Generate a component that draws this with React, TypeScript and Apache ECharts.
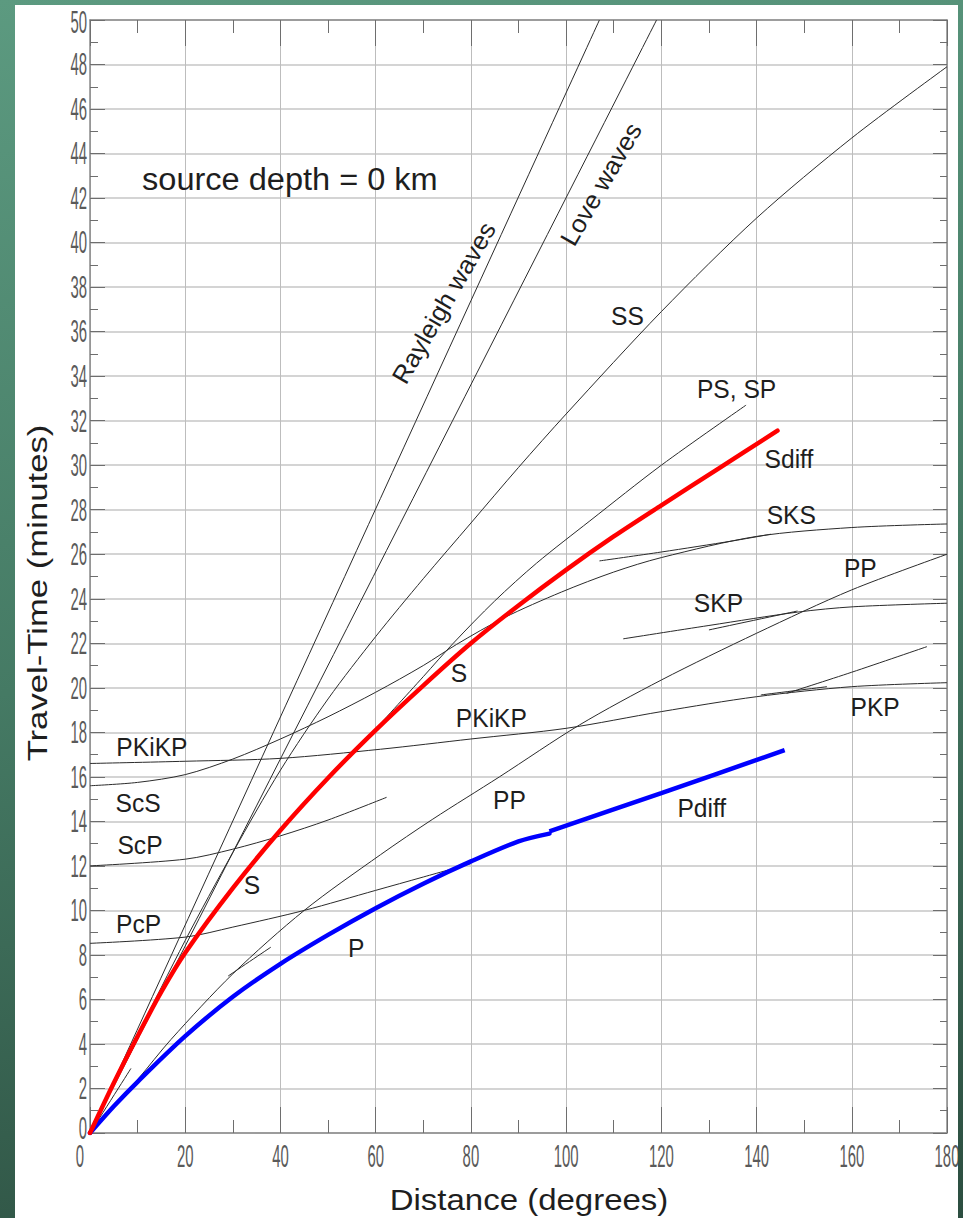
import React, { useEffect, useRef } from "react";
import * as echarts from "echarts";

// ---------- axis ticks ----------
const X_TICKS = [0, 20, 40, 60, 80, 100, 120, 140, 160, 180];
const Y_TICKS = [0, 2, 4, 6, 8, 10, 12, 14, 16, 18, 20, 22, 24, 26, 28, 30, 32, 34, 36, 38, 40, 42, 44, 46, 48, 50];

// ---------- travel-time curves: [distance (deg), time (min)] ----------
const P_WAVE = [[0, 0], [5, 1.2], [10, 2.3], [20, 4.35], [30, 6.12], [40, 7.6], [50, 8.9], [60, 10.1], [70, 11.2], [80, 12.2], [90, 13.1], [96.5, 13.45]];
const P_DIFF = [[96.5, 13.55], [120, 15.27], [145.9, 17.2]];
const S_WAVE = [[0, 0], [5, 2.25], [10, 4.35], [15, 6.35], [20, 8.1], [30, 11.0], [40, 13.6], [50, 15.95], [60, 18.1], [70, 20.1], [80, 22.0], [90, 23.7], [100, 25.3], [110, 26.8], [120, 28.2], [132, 29.85], [144.4, 31.55]];
const RAYLEIGH = [[0, 0], [107, 50]];
const LOVE = [[0, 0], [119, 50]];
const SS = [[0, 0], [10, 4.4], [20, 8.65], [30, 12.6], [40, 16.3], [50, 19.5], [60, 22.3], [70, 24.9], [80, 27.4], [90, 29.9], [100, 32.3], [120, 36.9], [140, 41.1], [160, 44.7], [180, 47.9]];
const PS_SP = [[60, 18.15], [70, 20.5], [76.3, 22.0], [85, 23.9], [93.8, 25.6], [105, 27.5], [120, 30.0], [137.8, 32.7]];
const SCS_SKS = [[0, 15.6], [10, 15.75], [20, 16.1], [30, 16.8], [40, 17.7], [50, 18.7], [60, 19.8], [70, 21.0], [77, 21.95], [87, 23.15], [99, 24.3], [110, 25.2], [120, 25.85], [140, 26.8], [160, 27.2], [180, 27.36]];
const SKKS = [[107, 25.7], [120, 26.1], [135, 26.6], [143, 26.9]];
const PKIKP = [[0, 16.6], [20, 16.7], [40, 16.83], [61, 17.24], [80, 17.7], [100, 18.18], [120, 18.93], [140, 19.6], [160, 20.05], [180, 20.23]];
const PKP_AB = [[146.3, 19.75], [160, 20.7], [175.8, 21.85]];
const PKP_BC = [[140.9, 19.68], [154.8, 20.05]];
const SKP = [[112, 22.2], [130, 22.8], [148.6, 23.4], [160.3, 23.64], [180, 23.8]];
const PKS = [[130, 22.6], [148.6, 23.45]];
const PP = [[0, 0], [10, 2.4], [17, 4.2], [30, 7.15], [45, 10.0], [61, 12.5], [72, 14.1], [86, 16.0], [102.8, 18.33], [120, 20.35], [140, 22.45], [160, 24.4], [180, 26.0]];
const PP_SHORT = [[29, 7.05], [38, 8.35]];
const PCP = [[0, 8.52], [20, 8.8], [30, 9.25], [45, 10.0], [60, 10.9], [70, 11.5], [80, 12.1]];
const SCP = [[0, 12.0], [20, 12.3], [30, 12.75], [40, 13.35], [50, 14.06], [62.3, 15.08]];
const NEAR_SHORT = [[0, 0], [8.6, 2.9]];

// ---------- curve labels (anchor in data coordinates) ----------
const PHASE_LABELS = ["PKiKP", "ScS", "ScP", "PcP", "S", "P", "S", "PKiKP", "PP", "Pdiff", "SKP", "PP", "SKS", "Sdiff", "PKP", "PS, SP", "SS"];
const PHASE_LABEL_X = [13.0, 10.1, 10.5, 10.2, 34.0, 55.9, 77.5, 84.3, 88.1, 128.5, 132.0, 161.8, 147.3, 146.8, 164.9, 135.8, 112.9];
const PHASE_LABEL_Y = [17.34, 14.82, 12.94, 9.39, 11.14, 8.33, 20.66, 18.64, 14.96, 14.6, 23.81, 25.38, 27.76, 30.28, 19.14, 33.42, 36.7];
const WAVE_LABELS = ["Rayleigh waves", "Love waves"];
const WAVE_LABEL_X = [74.3, 107.3];
const WAVE_LABEL_Y = [37.3, 42.63];
const TITLE_TEXT = "source depth = 0 km";
const TITLE_POS = [41.98, 42.86];
const X_NAME = "Distance (degrees)";
const Y_NAME = "Travel-Time (minutes)";

const FONT = "'Liberation Sans', Arial, Helvetica, sans-serif";

const thinCurves = [
  RAYLEIGH, LOVE, SS, PS_SP, SCS_SKS, SKKS, PKIKP, PKP_AB, PKP_BC, SKP, PKS, PP, PP_SHORT, PCP, SCP, NEAR_SHORT,
];

function buildOption(): any {
  const tickColor = "#6e6e6e";
  const axisLine = { show: true, onZero: false, lineStyle: { color: "#8a8a8a", width: 1.5 } };
  const xBase = {
    type: "value", min: 0, max: 180, interval: 20,
    axisLine, axisLabel: { show: false },
    axisTick: { show: true, inside: true, length: 26, lineStyle: { color: tickColor, width: 1 } },
    minorTick: { show: true, splitNumber: 2, length: 13, lineStyle: { color: tickColor, width: 1 } },
  };
  const yBase = {
    type: "value", min: 0, max: 50, interval: 2,
    axisLine, axisLabel: { show: false },
    axisTick: { show: true, inside: true, length: 15, lineStyle: { color: tickColor, width: 1 } },
    minorTick: { show: true, splitNumber: 2, length: 8, lineStyle: { color: tickColor, width: 1 } },
  };
  const series: any[] = thinCurves.map((d, i) => ({
    type: "line", name: "c" + i, data: d, showSymbol: false, symbol: "none",
    smooth: 0.3, silent: true, z: 3,
    lineStyle: { color: "#2b2b2b", width: 1 },
  }));
  series.push({ type: "line", name: "P", data: P_WAVE, showSymbol: false, symbol: "none", smooth: 0.3, silent: true, z: 5, lineStyle: { color: "#0000ff", width: 4.5, cap: "round" } });
  series.push({ type: "line", name: "Pdiff", data: P_DIFF, showSymbol: false, symbol: "none", smooth: 0.3, silent: true, z: 5, lineStyle: { color: "#0000ff", width: 4.5 } });
  series.push({ type: "line", name: "S", data: S_WAVE, showSymbol: false, symbol: "none", smooth: 0.3, silent: true, z: 5, lineStyle: { color: "#ff0000", width: 4.5, cap: "round" } });
  return {
    animation: false,
    backgroundColor: "transparent",
    grid: { left: 75, right: 11, top: 15, bottom: 85, containLabel: false },
    xAxis: [
      { ...xBase, position: "bottom", splitLine: { show: true, lineStyle: { color: "#bdbdbd", width: 1 } } },
      { ...xBase, position: "top", splitLine: { show: false } },
    ],
    yAxis: [
      { ...yBase, position: "left", splitLine: { show: true, lineStyle: { color: "#d4d4d4", width: 2 } } },
      { ...yBase, position: "right", axisTick: { ...yBase.axisTick, length: 14 }, minorTick: { ...yBase.minorTick, length: 7 }, splitLine: { show: false } },
    ],
    series,
  };
}

function txt(text: string, x: number, y: number, o: any = {}) {
  const align = o.align || "center";
  const style: any = {
    text, fontSize: o.size || 23, fontFamily: FONT, fill: o.fill || "#1e1e1e",
    textAlign: align, textVerticalAlign: "middle",
  };
  if (o.lh) style.lineHeight = o.lh;
  return {
    type: "text", x, y, rotation: o.rot || 0, scaleX: o.sx || 1, scaleY: o.sy || 1,
    silent: true, z: 100, style,
  };
}

export default function App() {
  const ref = useRef<HTMLDivElement>(null);
  useEffect(() => {
    if (!ref.current) return;
    const chart = echarts.init(ref.current, null, { renderer: "svg" });
    chart.setOption(buildOption());
    const toPx = (x: number, y: number) => chart.convertToPixel({ xAxisIndex: 0, yAxisIndex: 0 }, [x, y]) as number[];
    const g: any[] = [];
    X_TICKS.forEach((v) => {
      const p = toPx(v, 0);
      const dx = v === 0 ? -10 : 0;
      g.push(txt(String(v), p[0] + dx, p[1] + 23, { size: 31, sx: 0.48, fill: "#5a5a5a", lh: 24 }));
    });
    Y_TICKS.forEach((v) => {
      const p = toPx(0, v);
      const dy = v === 0 ? -5 : v === 50 ? 2 : 0;
      g.push(txt(String(v), p[0] - 3, p[1] + dy, { size: 31, sx: 0.48, fill: "#5a5a5a", align: "right", lh: 24 }));
    });
    PHASE_LABELS.forEach((t, i) => {
      const p = toPx(PHASE_LABEL_X[i], PHASE_LABEL_Y[i]);
      g.push(txt(t, p[0], p[1], { size: 23, sx: 1.07, sy: 1.1 }));
    });
    WAVE_LABELS.forEach((t, i) => {
      const p = toPx(WAVE_LABEL_X[i], WAVE_LABEL_Y[i]);
      g.push(txt(t, p[0], p[1], { size: 24, sx: 1.08, sy: 1.05, rot: (60 * Math.PI) / 180 }));
    });
    const tp = toPx(TITLE_POS[0], TITLE_POS[1]);
    g.push(txt(TITLE_TEXT, tp[0], tp[1], { size: 31, sx: 1.05 }));
    g.push(txt(X_NAME, 514, 1195, { size: 30, sx: 1.1 }));
    g.push(txt(Y_NAME, 22, 588, { size: 28, sx: 1.24, rot: Math.PI / 2 }));
    chart.setOption({ graphic: g });
    return () => chart.dispose();
  }, []);
  return (
    <div
      style={{
        position: "fixed", left: 0, top: 0, width: 963, height: 1218, overflow: "hidden",
        background: "linear-gradient(170deg, #5c9a80 0%, #457a64 50%, #2c4e40 100%)",
      }}
    >
      <div
        ref={ref}
        style={{ position: "absolute", left: 15, top: 5, width: 943, height: 1213, background: "#ffffff", overflow: "hidden" }}
      />
    </div>
  );
}
